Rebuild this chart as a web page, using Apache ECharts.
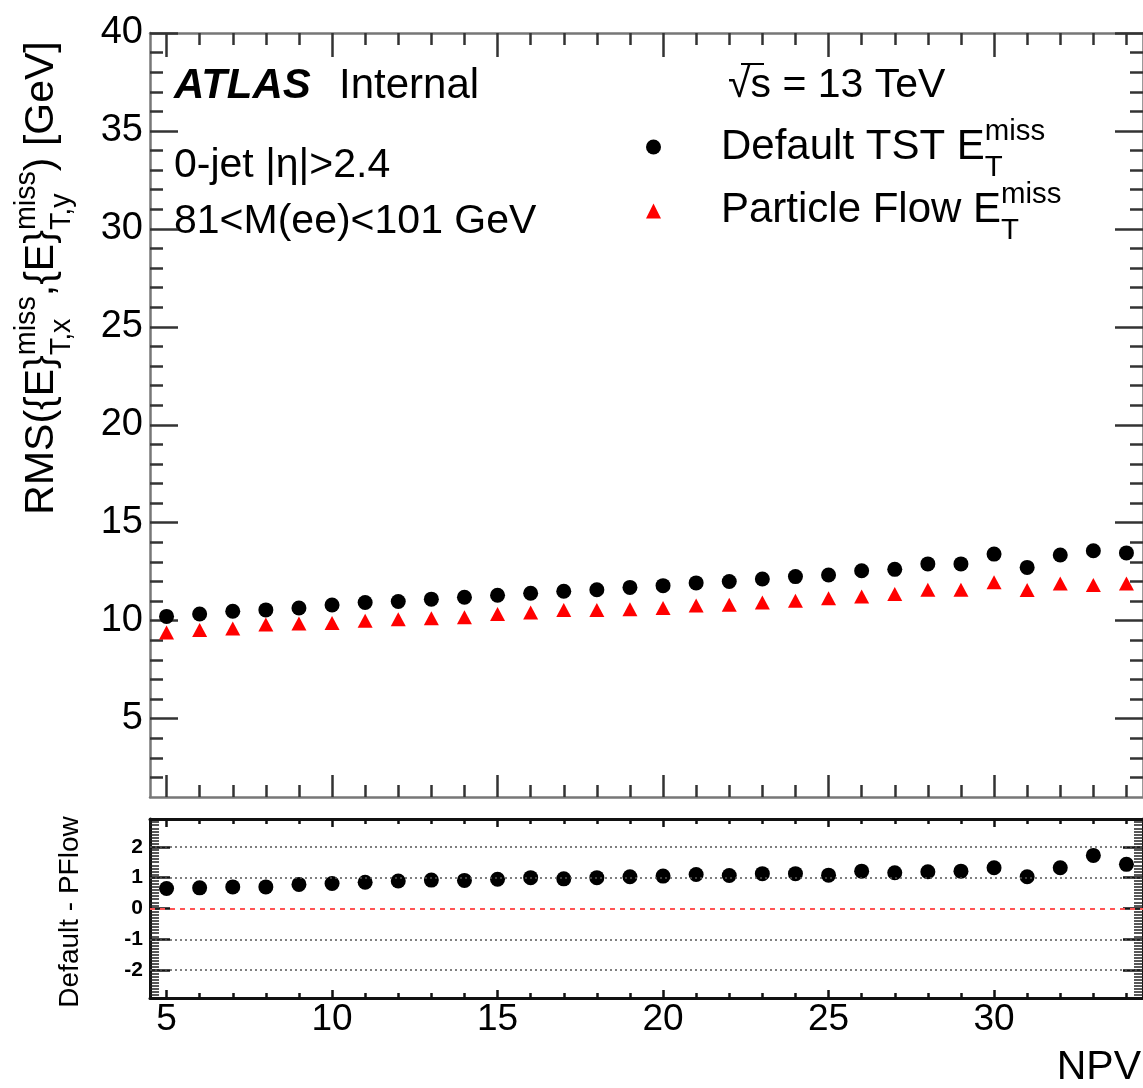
<!DOCTYPE html>
<html>
<head>
<meta charset="utf-8">
<script src="https://cdn.jsdelivr.net/npm/echarts@6/dist/echarts.min.js"></script>
<style>
html,body{margin:0;padding:0;background:#fff}
#chart{width:1143px;height:1088px}
</style>
</head>
<body>
<div id="chart"></div>
<script>
// NPV bins
const npv = [5,6,7,8,9,10,11,12,13,14,15,16,17,18,19,20,21,22,23,24,25,26,27,28,29,30,31,32,33,34];
// RMS of MET x/y components [GeV]
const tstRms = [10.22,10.34,10.48,10.55,10.65,10.8,10.93,10.98,11.1,11.2,11.3,11.4,11.5,11.58,11.7,
                11.79,11.93,12.0,12.13,12.25,12.33,12.55,12.62,12.9,12.9,13.4,12.72,13.35,13.57,13.46];
const pflowRms = [9.4,9.52,9.6,9.8,9.86,9.88,10.0,10.08,10.13,10.17,10.34,10.42,10.55,10.55,10.58,
                  10.65,10.77,10.82,10.93,11.02,11.14,11.23,11.36,11.58,11.58,11.96,11.57,11.9,11.82,11.9];
// lower panel: Default - PFlow
const diffVals = [0.65,0.67,0.70,0.70,0.78,0.81,0.85,0.89,0.92,0.91,0.95,1.0,0.96,1.0,1.03,
                  1.05,1.10,1.07,1.13,1.13,1.08,1.21,1.16,1.19,1.21,1.32,1.03,1.32,1.72,1.43];

// tick labels
const xTicks = [5,10,15,20,25,30];
const mainYTicks = [5,10,15,20,25,30,35,40];
const ratioYTicks = [-2,-1,0,1,2];
const ratioGuides = [-2,-1,1,2];

const xRange = [4.5, 34.5];
const mainRange = [1, 40];
const ratioRange = [-2.9, 2.9];

function steps(a, b, s) {
  const out = [];
  for (let v = a; v <= b + 1e-9; v += s) out.push(Math.round(v * 100) / 100);
  return out;
}
const xMinor = steps(5, 34, 1);
const mainYMinor = steps(2, 39, 1);
const ratioYMinor = steps(-2.8, 2.8, 0.1);

const FONT = 'Liberation Sans';

// one value axis; ticks inside, drawn at given positions
function ax(gridIndex, position, range, ticks, len, o) {
  o = o || {};
  return {
    type: 'value', gridIndex: gridIndex, position: position,
    min: range[0], max: range[1],
    axisLine: {show: !!o.line, onZero: false, lineStyle: {color: o.lineColor || '#777', width: o.lineWidth || 2.5}},
    axisTick: {show: true, inside: true, length: len, customValues: ticks,
               lineStyle: {color: o.tickColor || '#333', width: o.tickWidth || 2.5}},
    axisLabel: o.labels ? {show: true, customValues: ticks, margin: o.margin || 6,
               fontSize: o.fontSize || 38, fontWeight: o.bold ? 'bold' : 'normal',
               fontFamily: FONT, color: '#000'} : {show: false},
    splitLine: {show: false}
  };
}

// main panel (0) + its minor ticks (1), ratio panel (2) + its minor ticks (3)
const mainBox = {left: 150, top: 33, width: 993, height: 764};
const ratioBox = {left: 150, top: 819, width: 993, height: 179};

const xAxes = [
  ax(0, 'bottom', xRange, xTicks, 22, {line: true}),
  ax(0, 'top', xRange, xTicks, 24, {line: true}),
  ax(1, 'bottom', xRange, xMinor, 12),
  ax(1, 'top', xRange, xMinor, 12),
  ax(2, 'bottom', xRange, xTicks, 8, {line: true, lineColor: '#111', lineWidth: 3, tickColor: '#111', labels: true, margin: 3, fontSize: 37}),
  ax(2, 'top', xRange, xTicks, 8, {line: true, lineColor: '#111', lineWidth: 3, tickColor: '#111'}),
  ax(3, 'bottom', xRange, xMinor, 5, {tickColor: '#111'}),
  ax(3, 'top', xRange, xMinor, 5, {tickColor: '#111'})
];
const yAxes = [
  ax(0, 'left', mainRange, mainYTicks, 28, {line: true, labels: true, margin: 7}),
  ax(0, 'right', mainRange, mainYTicks, 28, {line: true}),
  ax(1, 'left', mainRange, mainYMinor, 13),
  ax(1, 'right', mainRange, mainYMinor, 13),
  ax(2, 'left', ratioRange, ratioYTicks, 20, {line: true, lineColor: '#111', lineWidth: 3, tickColor: '#111', labels: true, margin: 7, fontSize: 21, bold: true}),
  ax(2, 'right', ratioRange, ratioYTicks, 20, {line: true, lineColor: '#111', lineWidth: 3, tickColor: '#111'}),
  ax(3, 'left', ratioRange, ratioYMinor, 9, {tickColor: '#222', tickWidth: 1.5}),
  ax(3, 'right', ratioRange, ratioYMinor, 9, {tickColor: '#222', tickWidth: 1.5})
];

// text with stacked super/subscripts, like ROOT's E_{T}^{miss}
const meas = document.createElement('canvas').getContext('2d');
function textW(s, size, pre) {
  meas.font = (pre || '') + ' ' + size + 'px "' + FONT + '"';
  return meas.measureText(s).width;
}
function txt(s, x, y, size, extra) {
  return {type: 'text', x: x, y: y, silent: true,
    style: Object.assign({text: s, fontSize: size, fontFamily: FONT, fill: '#000',
      align: 'left', verticalAlign: 'middle', textAlign: 'left', textVerticalAlign: 'middle'}, extra || {})};
}
function mathText(segs, size, x, y, o) {
  o = o || {};
  const small = size * 0.7;
  const kids = [];
  let cx = 0;
  segs.forEach(function (s) {
    if (typeof s === 'string') {
      kids.push(txt(s, cx, 0, size));
      cx += textW(s, size);
    } else {
      kids.push(txt(s.sup, cx, -0.36 * size, small));
      kids.push(txt(s.sub, cx, 0.5 * size, small));
      cx += Math.max(textW(s.sup, small), textW(s.sub, small));
    }
  });
  if (o.center) kids.forEach(function (k) { k.x -= cx / 2; });
  return {type: 'group', x: x, y: y, rotation: o.rotation || 0, children: kids};
}

const graphics = [
  mathText(['RMS({E}', {sup: 'miss', sub: 'T,x'}, ',{E}', {sup: 'miss', sub: 'T,y'}, ') [GeV]'], 41, 42, 278,
           {center: true, rotation: Math.PI / 2}),
  mathText(['Default - PFlow'], 28, 70, 912, {center: true, rotation: Math.PI / 2}),
  txt('ATLAS', 174, 86, 42, {fontWeight: 'bold', fontStyle: 'italic'}),
  txt('Internal', 339, 86, 42),
  txt('0-jet |η|>2.4', 174, 166, 41),
  txt('81<M(ee)<101 GeV', 174, 222, 41),
  txt('√s = 13 TeV', 728, 86, 41),
  {type: 'line', silent: true, shape: {x1: 741, y1: 64, x2: 764, y2: 64}, style: {stroke: '#000', lineWidth: 2}},
  mathText(['Default TST E', {sup: 'miss', sub: 'T'}], 42, 721, 147),
  mathText(['Particle Flow E', {sup: 'miss', sub: 'T'}], 42, 721, 210),
  txt('NPV', 1141, 1068, 41, {align: 'right', textAlign: 'right'})
];

const chart = echarts.init(document.getElementById('chart'), null, {renderer: 'canvas'});
chart.setOption({
  animation: false,
  backgroundColor: '#fff',
  grid: [mainBox, mainBox, ratioBox, ratioBox],
  xAxis: xAxes,
  yAxis: yAxes,
  legend: {
    data: [{name: 'Default TST', icon: 'circle'}, {name: 'Particle Flow', icon: 'triangle'}],
    orient: 'vertical', left: 646, top: 139.5, padding: 0, itemWidth: 15, itemHeight: 15, itemGap: 49,
    formatter: function () { return ''; }, textStyle: {fontSize: 15}, selectedMode: false
  },
  series: [
    {
      name: 'Default TST', type: 'scatter', xAxisIndex: 0, yAxisIndex: 0,
      symbol: 'circle', symbolSize: 15, itemStyle: {color: '#000', opacity: 1},
      data: npv.map(function (x, i) { return [x, tstRms[i]]; })
    },
    {
      name: 'Particle Flow', type: 'scatter', xAxisIndex: 0, yAxisIndex: 0,
      symbol: 'triangle', symbolSize: [15, 14], itemStyle: {color: '#ff0000', opacity: 1},
      data: npv.map(function (x, i) { return [x, pflowRms[i]]; })
    },
    {
      name: 'Default - PFlow', type: 'scatter', xAxisIndex: 4, yAxisIndex: 4,
      symbol: 'circle', symbolSize: 15, itemStyle: {color: '#000', opacity: 1},
      data: npv.map(function (x, i) { return [x, diffVals[i]]; }),
      markLine: {
        silent: true, symbol: 'none', label: {show: false}, animation: false,
        data: ratioGuides.map(function (v) {
          return {yAxis: v, lineStyle: {color: '#555', type: [2, 3], width: 1.5}};
        }).concat([{yAxis: 0, lineStyle: {color: '#ff5555', type: [5, 5], width: 2}}])
      }
    }
  ],
  graphic: graphics
});
</script>
</body>
</html>
